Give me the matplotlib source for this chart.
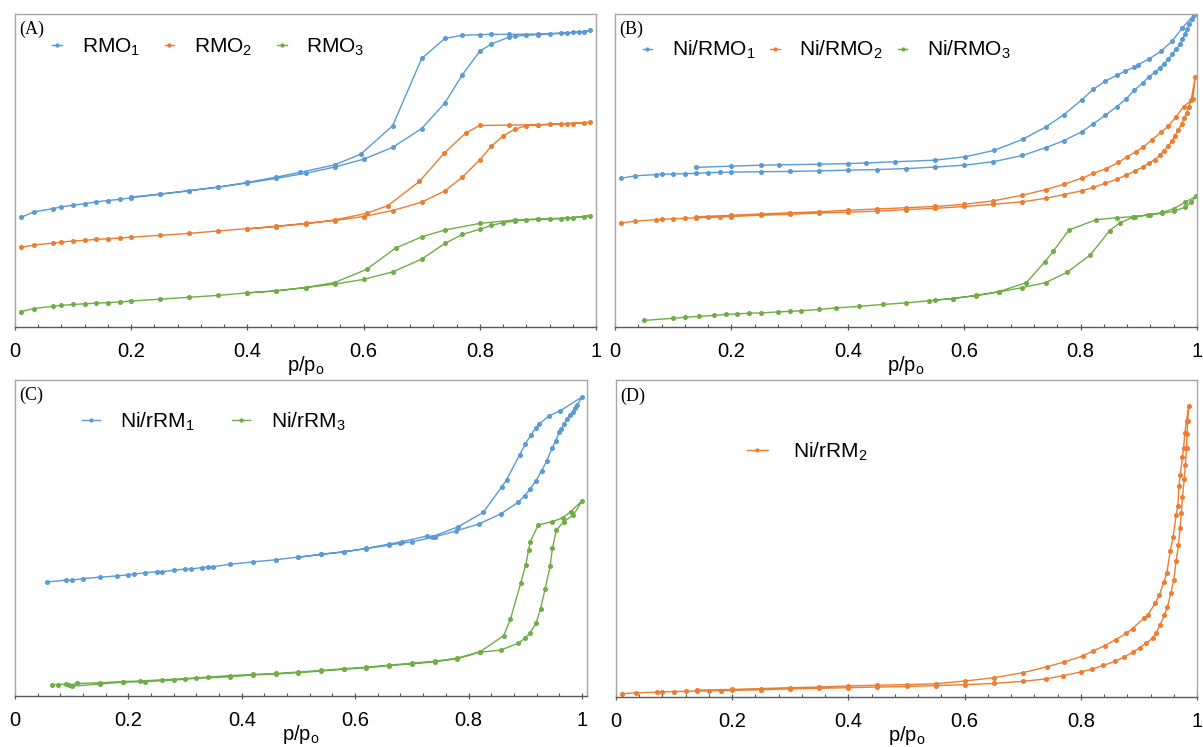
import numpy as np
import matplotlib
matplotlib.use("Agg")
import matplotlib.pyplot as plt
from matplotlib.ticker import MultipleLocator

plt.rcParams['font.family'] = ['Liberation Sans', 'DejaVu Sans']
plt.rcParams['mathtext.fontset'] = 'custom'
plt.rcParams['mathtext.rm'] = 'Liberation Sans'
plt.rcParams['mathtext.it'] = 'Liberation Sans:italic'

BLUE = '#5B9BD5'
ORANGE = '#ED7D31'
GREEN = '#70AD47'

# ---- (A) RMO samples: adsorption branch then desorption branch ----
rmo1_x = [0.01, 0.033, 0.065, 0.08, 0.1, 0.12, 0.14, 0.16, 0.18, 0.2, 0.25, 0.3, 0.35, 0.4, 0.45, 0.5,
          0.55, 0.6, 0.65, 0.7, 0.74, 0.77, 0.8, 0.82, 0.85, 0.86, 0.88, 0.9, 0.92, 0.94, 0.96, 0.98, 0.99,
          0.97, 0.95, 0.9, 0.85, 0.82, 0.8, 0.77, 0.74, 0.7, 0.65, 0.595, 0.55, 0.49, 0.45, 0.4, 0.35,
          0.3, 0.25, 0.2]
rmo1_y = [35.0, 36.8, 37.8, 38.4, 38.9, 39.4, 40.0, 40.4, 40.8, 41.3, 42.4, 43.5, 44.7, 46.0, 47.5, 49.1,
          51.1, 53.6, 57.4, 63.4, 71.6, 80.6, 88.1, 90.4, 92.6, 92.9, 93.2, 93.4, 93.6, 93.8, 94.1, 94.4, 94.8,
          94.2, 94.0, 93.6, 93.5, 93.5, 93.4, 93.2, 92.2, 85.8, 64.3, 55.2, 51.8, 49.4, 47.9, 46.2, 44.7,
          43.6, 42.5, 41.5]

rmo2_x = [0.01, 0.033, 0.065, 0.08, 0.1, 0.12, 0.14, 0.16, 0.18, 0.2, 0.25, 0.3, 0.35, 0.4, 0.45, 0.5,
          0.55, 0.6, 0.65, 0.7, 0.74, 0.77, 0.8, 0.82, 0.84, 0.86, 0.88, 0.9, 0.92, 0.94, 0.96, 0.98, 0.99,
          0.95, 0.9, 0.85, 0.8, 0.776, 0.739, 0.696, 0.642, 0.605, 0.55, 0.5, 0.45, 0.4]
rmo2_y = [25.4, 26.2, 26.8, 27.1, 27.5, 27.7, 28.0, 28.2, 28.4, 28.7, 29.3, 29.9, 30.7, 31.4, 32.2, 33.1,
          34.0, 35.3, 37.2, 39.9, 43.5, 47.9, 53.4, 57.8, 61.0, 63.2, 64.3, 64.6, 64.7, 64.9, 65.0, 65.2, 65.4,
          65.0, 64.6, 64.5, 64.4, 62.0, 55.6, 46.5, 38.8, 36.3, 34.2, 33.0, 32.1, 31.3]

rmo3_x = [0.01, 0.033, 0.065, 0.08, 0.1, 0.12, 0.14, 0.16, 0.18, 0.2, 0.25, 0.3, 0.35, 0.4, 0.45, 0.5,
          0.55, 0.6, 0.65, 0.7, 0.74, 0.77, 0.8, 0.82, 0.84, 0.86, 0.88, 0.9, 0.92, 0.94, 0.96, 0.98, 0.99,
          0.95, 0.9, 0.86, 0.8, 0.74, 0.7, 0.655, 0.605, 0.55, 0.5, 0.45, 0.4]
rmo3_y = [4.9, 5.9, 6.6, 6.9, 7.2, 7.4, 7.6, 7.8, 8.0, 8.3, 8.9, 9.5, 10.1, 10.9, 11.6, 12.6,
          13.7, 15.2, 17.6, 21.7, 26.7, 29.6, 31.2, 32.5, 33.3, 33.9, 34.2, 34.4, 34.5, 34.6, 34.8, 35.3, 35.6,
          34.8, 34.5, 34.2, 33.1, 31.0, 28.8, 25.2, 18.4, 14.2, 12.6, 11.5, 10.9]

# ---- (B) Ni/RMO samples ----
nirmo1_x = [0.01, 0.035, 0.07, 0.08, 0.1, 0.12, 0.14, 0.16, 0.18, 0.2, 0.25, 0.3, 0.35, 0.4, 0.45, 0.5,
            0.55, 0.6, 0.65, 0.7, 0.74, 0.771, 0.802, 0.822, 0.842, 0.862, 0.878, 0.892, 0.907, 0.917, 0.928,
            0.936, 0.943, 0.951, 0.957, 0.964, 0.971, 0.975, 0.979, 0.983, 0.987, 0.991, 0.994,
            0.975, 0.957, 0.938, 0.918, 0.899, 0.892, 0.876, 0.862, 0.842, 0.822, 0.802, 0.771, 0.741,
            0.701, 0.651, 0.602, 0.55, 0.481, 0.431, 0.4, 0.35, 0.281, 0.251, 0.2, 0.14]
nirmo1_y = [47.5, 48.3, 48.7, 48.8, 48.9, 49.0, 49.1, 49.3, 49.4, 49.5, 49.6, 49.7, 49.9, 50.1, 50.3, 50.6,
            51.1, 51.7, 52.8, 54.8, 57.3, 59.5, 62.4, 64.9, 67.6, 70.4, 72.8, 75.6, 78.0, 79.9, 81.4,
            82.8, 84.1, 85.5, 87.1, 88.7, 90.3, 91.9, 93.5, 95.1, 96.7, 98.3, 99.6,
            95.6, 91.3, 88.1, 85.7, 83.8, 83.0, 81.7, 80.4, 78.5, 76.0, 72.6, 67.8, 64.0,
            60.0, 56.4, 54.4, 53.3, 52.8, 52.4, 52.2, 52.0, 51.8, 51.7, 51.4, 51.0]

nirmo2_x = [0.01, 0.035, 0.07, 0.08, 0.1, 0.12, 0.14, 0.16, 0.18, 0.2, 0.25, 0.3, 0.35, 0.4, 0.45, 0.5,
            0.55, 0.6, 0.65, 0.7, 0.74, 0.771, 0.802, 0.822, 0.842, 0.862, 0.878, 0.893, 0.908, 0.918, 0.928,
            0.936, 0.943, 0.951, 0.957, 0.962, 0.968, 0.974, 0.978, 0.982, 0.986, 0.99, 0.997,
            0.993, 0.977, 0.964, 0.951, 0.938, 0.922, 0.908, 0.895, 0.88, 0.865, 0.844, 0.822, 0.802,
            0.771, 0.74, 0.7, 0.65, 0.6, 0.55, 0.5, 0.45, 0.4, 0.35, 0.3, 0.25, 0.2, 0.14]
nirmo2_y = [33.2, 33.8, 34.3, 34.4, 34.6, 34.7, 34.9, 35.0, 35.1, 35.3, 35.7, 36.0, 36.4, 36.7, 37.0, 37.5,
            37.9, 38.5, 39.2, 40.0, 41.1, 42.3, 43.5, 44.6, 45.9, 47.2, 48.5, 49.8, 51.2, 52.5, 53.5,
            54.9, 56.3, 57.9, 59.5, 61.1, 63.0, 64.9, 66.7, 68.5, 70.4, 72.6, 79.9,
            72.8, 70.4, 67.2, 64.2, 62.2, 59.7, 57.6, 56.0, 54.4, 52.6, 50.6, 49.1, 47.5,
            45.6, 43.9, 42.1, 40.3, 39.2, 38.5, 38.1, 37.7, 37.3, 36.8, 36.5, 36.1, 35.7, 35.2]

nirmo3_x = [0.05, 0.1, 0.12, 0.145, 0.17, 0.19, 0.21, 0.23, 0.25, 0.28, 0.3, 0.32, 0.35, 0.38, 0.42, 0.46,
            0.5, 0.54, 0.58, 0.62, 0.66, 0.7, 0.74, 0.777, 0.817, 0.85, 0.867, 0.89, 0.916, 0.94, 0.96,
            0.98, 0.99, 0.999,
            0.98, 0.96, 0.94, 0.92, 0.893, 0.863, 0.827, 0.78, 0.753, 0.738, 0.707, 0.66, 0.62, 0.58, 0.55]
nirmo3_y = [2.1, 2.8, 3.1, 3.4, 3.7, 4.0, 4.2, 4.4, 4.5, 4.8, 5.0, 5.2, 5.6, 6.1, 6.6, 7.2,
            7.7, 8.4, 9.1, 10.0, 11.2, 12.6, 14.2, 17.5, 23.1, 30.8, 33.2, 35.1, 35.8, 36.3, 37.0,
            38.3, 39.9, 41.8,
            39.9, 37.8, 36.6, 35.9, 35.3, 34.9, 34.3, 31.0, 24.2, 20.7, 14.2, 11.3, 10.1, 9.1, 8.6]

# ---- (C) Ni/rRM1 and Ni/rRM3 ----
nirrm1_x = [0.057, 0.09, 0.1, 0.12, 0.15, 0.18, 0.2, 0.21, 0.23, 0.25, 0.26, 0.28, 0.3, 0.31, 0.33, 0.34,
            0.35, 0.38, 0.42, 0.46, 0.5, 0.54, 0.58, 0.62, 0.66, 0.68, 0.7, 0.74, 0.778, 0.818, 0.857,
            0.888, 0.899, 0.909, 0.919, 0.929, 0.938, 0.948, 0.954, 0.96, 0.964, 0.968, 0.973, 0.979,
            0.984, 0.988, 0.992, 1.0,
            0.962, 0.942, 0.924, 0.919, 0.91, 0.9, 0.89, 0.867, 0.859, 0.826, 0.782, 0.736, 0.726,
            0.682, 0.659, 0.62, 0.581, 0.54, 0.5]
nirrm1_y = [38.0, 38.6, 38.6, 39.1, 39.6, 40.0, 40.4, 40.6, 41.1, 41.4, 41.4, 41.9, 42.3, 42.3, 42.8, 43.0,
            43.1, 43.9, 44.7, 45.4, 46.3, 47.2, 48.1, 49.1, 50.3, 50.9, 51.4, 53.0, 55.0, 57.3, 60.7,
            64.6, 66.8, 69.0, 71.8, 75.0, 78.4, 82.8, 85.1, 87.9, 88.9, 90.6, 92.2, 93.7,
            94.8, 95.9, 97.0, 99.6,
            95.1, 93.3, 90.6, 89.4, 87.0, 83.9, 80.3, 72.0, 69.8, 61.2, 56.4, 53.1, 53.3,
            51.4, 50.6, 49.2, 48.0, 47.2, 46.2]

nirrm3_x = [0.065, 0.075, 0.09, 0.1, 0.15, 0.19, 0.23, 0.28, 0.32, 0.38, 0.42, 0.46, 0.5, 0.54, 0.58, 0.62,
            0.66, 0.7, 0.74, 0.78, 0.82, 0.857, 0.888, 0.899, 0.908, 0.919, 0.927, 0.935, 0.944, 0.948,
            0.955, 0.968, 0.985, 1.0,
            0.98, 0.966, 0.948, 0.923, 0.909, 0.906, 0.901, 0.892, 0.874, 0.862, 0.821, 0.78, 0.74, 0.7,
            0.66, 0.62, 0.58, 0.54, 0.5, 0.46, 0.42, 0.38, 0.34, 0.3, 0.26, 0.22, 0.19, 0.15, 0.11, 0.095]
nirrm3_y = [3.8, 3.8, 4.0, 3.3, 4.0, 4.6, 4.8, 5.3, 5.9, 6.4, 7.0, 7.3, 7.8, 8.3, 8.9, 9.4,
            10.1, 10.7, 11.4, 12.4, 14.6, 15.3, 17.6, 19.2, 20.9, 24.2, 29.0, 35.6, 43.3, 49.2,
            55.3, 58.1, 60.3, 65.0,
            61.4, 59.4, 58.1, 57.0, 51.4, 48.7, 43.7, 37.6, 25.6, 20.1, 14.8, 12.6, 11.6, 10.9,
            10.3, 9.6, 9.1, 8.5, 8.0, 7.5, 7.2, 6.8, 6.3, 5.8, 5.4, 5.0, 4.8, 4.4, 4.2, 3.6]

# ---- (D) Ni/rRM2 ----
nirrm2_x = [0.01, 0.035, 0.07, 0.08, 0.1, 0.12, 0.14, 0.16, 0.18, 0.2, 0.25, 0.3, 0.35, 0.4, 0.45, 0.5,
            0.55, 0.6, 0.65, 0.7, 0.74, 0.77, 0.8, 0.82, 0.839, 0.859, 0.875, 0.889, 0.902, 0.913, 0.924,
            0.93, 0.936, 0.944, 0.949, 0.955, 0.96, 0.964, 0.968, 0.971, 0.973, 0.975, 0.978, 0.98,
            0.982, 0.983, 0.984, 0.986,
            0.982, 0.979, 0.977, 0.975, 0.971, 0.969, 0.967, 0.964, 0.959, 0.954, 0.948, 0.943, 0.935,
            0.928, 0.915, 0.909, 0.889, 0.878, 0.86, 0.841, 0.821, 0.803, 0.771, 0.741, 0.701, 0.65,
            0.6, 0.55, 0.5, 0.45, 0.4, 0.35, 0.3, 0.25, 0.2, 0.14]
nirrm2_y = [1.1, 1.4, 1.6, 1.7, 1.8, 1.9, 2.0, 2.0, 2.1, 2.2, 2.4, 2.7, 2.9, 3.1, 3.3, 3.5,
            3.8, 4.1, 4.5, 5.2, 6.0, 7.1, 8.3, 9.3, 10.5, 11.9, 13.3, 14.8, 16.4, 18.0, 19.6,
            21.4, 23.8, 27.2, 29.9, 34.4, 38.8, 45.1, 50.4, 56.3, 61.0, 66.5, 72.4, 77.1,
            82.8, 87.4, 91.8, 96.8,
            91.8, 87.6, 82.8, 79.8, 73.7, 70.1, 63.4, 60.4, 53.2, 48.5, 41.2, 38.2, 33.8,
            31.1, 27.2, 26.3, 22.7, 21.1, 19.1, 17.0, 15.3, 13.6, 11.6, 10.0, 8.1, 6.4,
            5.3, 4.4, 4.1, 3.9, 3.7, 3.3, 3.1, 2.8, 2.5, 2.3]

W, H = 1203, 747
fig = plt.figure(figsize=(W / 100, H / 100), dpi=100)


def make_axes(left, right, top, bottom):
    return fig.add_axes([left / W, (H - bottom) / H, (right - left) / W, (bottom - top) / H])


def style_axes(ax, xmax, ymax, tag):
    ax.set_xlim(0, xmax)
    ax.set_ylim(0, ymax)
    ax.set_yticks([])
    ax.xaxis.set_minor_locator(MultipleLocator(0.04))
    ax.set_xticks([0, 0.2, 0.4, 0.6, 0.8, 1.0])
    ax.set_xticklabels(['0', '0.2', '0.4', '0.6', '0.8', '1'])
    ax.tick_params(axis='x', which='major', direction='inout', length=5, width=0.9,
                   color='#595959', labelsize=14.5, pad=8)
    ax.tick_params(axis='x', which='minor', direction='in', length=2.5, width=0.8, color='#595959')
    for s in ['top', 'left', 'right']:
        ax.spines[s].set_color('#a6a6a6')
        ax.spines[s].set_linewidth(1.0)
    ax.spines['bottom'].set_color('#595959')
    ax.spines['bottom'].set_linewidth(1.0)
    ax.set_xlabel('p/p$_\\mathrm{o}$', fontsize=14.5, labelpad=-4.5)
    ax.text(0.008, 0.95, tag, transform=ax.transAxes, family='Liberation Serif',
            fontsize=13, va='center', ha='left')


def draw(ax, x, y, color, label):
    ax.plot(x, y, color=color, lw=1.0, marker='o', ms=2.6, mec=color, mfc=color, label=label)


axA = make_axes(15, 596, 14, 327)
draw(axA, rmo1_x, rmo1_y, BLUE, 'RMO$_1$')
draw(axA, rmo2_x, rmo2_y, ORANGE, 'RMO$_2$')
draw(axA, rmo3_x, rmo3_y, GREEN, 'RMO$_3$')
style_axes(axA, 1.0, 100, '(A)')
axA.legend(loc='center left', bbox_to_anchor=(0.032, 0.895), ncol=3, frameon=False, fontsize=15,
           handlelength=0.45, handletextpad=0.95, columnspacing=1.2, markerscale=0.8)

axB = make_axes(615, 1197, 14, 327)
draw(axB, nirmo1_x, nirmo1_y, BLUE, 'Ni/RMO$_1$')
draw(axB, nirmo2_x, nirmo2_y, ORANGE, 'Ni/RMO$_2$')
draw(axB, nirmo3_x, nirmo3_y, GREEN, 'Ni/RMO$_3$')
style_axes(axB, 1.0, 100, '(B)')
axB.legend(loc='center left', bbox_to_anchor=(0.0155, 0.885), ncol=3, frameon=False, fontsize=15,
           handlelength=0.45, handletextpad=0.95, columnspacing=0.7, markerscale=0.8)

axC = make_axes(15, 587, 380, 696)
draw(axC, nirrm1_x, nirrm1_y, BLUE, 'Ni/rRM$_1$')
draw(axC, nirrm3_x, nirrm3_y, GREEN, 'Ni/rRM$_3$')
style_axes(axC, 1.009, 105.3, '(C)')
axC.legend(loc='center left', bbox_to_anchor=(0.084, 0.868), ncol=2, frameon=False, fontsize=15,
           handlelength=0.85, handletextpad=1.0, columnspacing=1.8, markerscale=0.8)

axD = make_axes(616, 1197, 380, 697)
draw(axD, nirrm2_x, nirrm2_y, ORANGE, 'Ni/rRM$_2$')
style_axes(axD, 1.0, 105.3, '(D)')
axD.legend(loc='center left', bbox_to_anchor=(0.193, 0.774), ncol=1, frameon=False, fontsize=15,
           handlelength=1.0, handletextpad=1.2, markerscale=0.8)

fig.savefig('out.png', dpi=100)
